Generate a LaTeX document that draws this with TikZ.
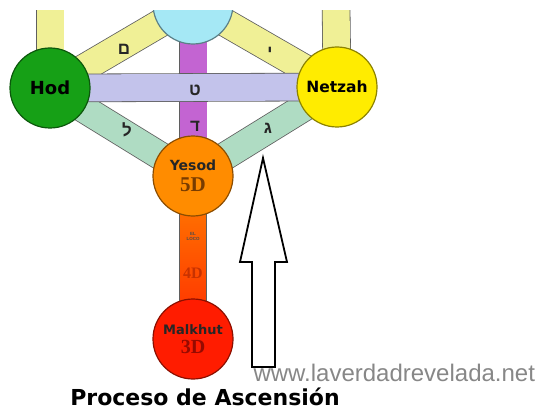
\documentclass[tikz,border=0pt]{standalone}
\usepackage{fontspec}
\setmainfont{Liberation Sans}
\newfontfamily\hebfont[Script=Hebrew]{Liberation Sans}
\newfontfamily\sefirafont{DejaVu Sans}
\newfontfamily\dimfont{Liberation Serif}
\TeXXeTstate=1
\usetikzlibrary{calc}
\pgfdeclarelayer{background}
\pgfsetlayers{background,main}

\definecolor{hodgreen}{RGB}{22,160,22}
\definecolor{netzyellow}{RGB}{255,236,0}
\definecolor{yesodorange}{RGB}{255,140,0}
\definecolor{malkred}{RGB}{255,28,0}
\definecolor{tiphblue}{RGB}{165,232,245}
\definecolor{pathyellow}{RGB}{240,240,150}
\definecolor{pathlav}{RGB}{195,195,235}
\definecolor{pathpurple}{RGB}{195,100,210}
\definecolor{pathgreen}{RGB}{175,220,195}
\definecolor{pathedge}{RGB}{95,95,95}
\definecolor{barorange}{RGB}{255,130,0}
\definecolor{barred}{RGB}{255,40,0}
\definecolor{urlgray}{RGB}{135,135,135}

\tikzset{
  sefira/.style={circle,draw=#1!55!black,fill=#1,line width=1.2pt,minimum size=80pt,inner sep=0pt,align=center},
  pathline/.style={draw=pathedge,line width=0.8pt,double=#1,double distance=27pt},
  hebletter/.style={font=\hebfont\bfseries\fontsize{17}{17}\selectfont,text=black!85},
}

\begin{document}
\begin{tikzpicture}[x=1pt,y=-1pt]
\useasboundingbox (0,0) rectangle (543,409);

% the sefirot
\node (tiph) [sefira=tiphblue] at (193,4) {};
\node (hod) [sefira=hodgreen] at (50,88) {\sefirafont\bfseries\fontsize{18}{18}\selectfont Hod};
\node (netz) [sefira=netzyellow] at (337,87) {\sefirafont\bfseries\fontsize{15.5}{15.5}\selectfont Netzah};
\node (yesod) [sefira=yesodorange,font=\fontsize{14}{21}\selectfont] at (193,176) {{\sefirafont\bfseries\fontsize{14}{21}\selectfont\color{black!85}Yesod}\\{\dimfont\bfseries\fontsize{21}{21}\selectfont\color[RGB]{120,60,0}5D}};
\node (malk) [sefira=malkred,font=\fontsize{13}{19}\selectfont] at (193,339) {{\sefirafont\bfseries\fontsize{13}{19}\selectfont\color{black!85}Malkhut}\\{\dimfont\bfseries\fontsize{20}{20}\selectfont\color[RGB]{150,10,0}3D}};
\coordinate (hodtop) at (50,0);
\coordinate (netztop) at (336,0);

% paths between them
\begin{pgfonlayer}{background}
\draw[pathline=pathyellow] (hod.center) -- (hodtop);
\draw[pathline=pathyellow] (netz.center) -- (netztop);
\draw[pathline=pathyellow] (hod.center) -- (tiph.center);
\draw[pathline=pathyellow] (netz.center) -- (tiph.center);
\draw[pathline=pathgreen] (hod.center) -- (yesod.center);
\draw[pathline=pathgreen] (netz.center) -- (yesod.center);
\draw[pathline=pathpurple] (tiph.center) -- (yesod.center);
\draw[pathline=pathlav] (hod.center) -- (netz.center);
\shade[top color=barorange,bottom color=barred,draw=pathedge,line width=0.8pt]
  ($(yesod.center)+(-13.5,0)$) rectangle ($(malk.center)+(13.5,0)$);
\end{pgfonlayer}

% letters
\node (mem) [hebletter] at (124,49) {\beginR ם\endR};
\node (yod) [hebletter] at (270,52) {\beginR י\endR};
\node (tet) [hebletter] at (195,90) {\beginR ט\endR};
\node (dalet) [hebletter] at (195,126) {\beginR ד\endR};
\node (lamed) [hebletter] at (127,130) {\beginR ל\endR};
\node (gimel) [hebletter] at (268,128) {\beginR ג\endR};

\node (el) [font=\bfseries\fontsize{4.5}{5}\selectfont,text=black!70,align=center] at (193,236) {EL\\LOCO};
\node (fourd) [font=\dimfont\bfseries\fontsize{16}{16}\selectfont,text={rgb,255:red,200;green,50;blue,0}] at (193,273) {4D};

% cut at the top
\fill[white] (0,0) rectangle (543,10);

% hollow arrow
\draw[line width=1.8pt,fill=white,line join=miter]
  (252,367) -- (252,262) -- (240,262) -- (263,158) -- (287,262) -- (275,262) -- (275,367) -- cycle;

\node (url) [anchor=base west,font=\fontsize{24}{24}\selectfont,text=urlgray] at (250,381) {www.laverdadrevelada.net};
\node (title) [anchor=base,font=\sefirafont\bfseries\fontsize{22}{22}\selectfont] at (205,405) {Proceso de Ascensión};
\end{tikzpicture}
\end{document}
